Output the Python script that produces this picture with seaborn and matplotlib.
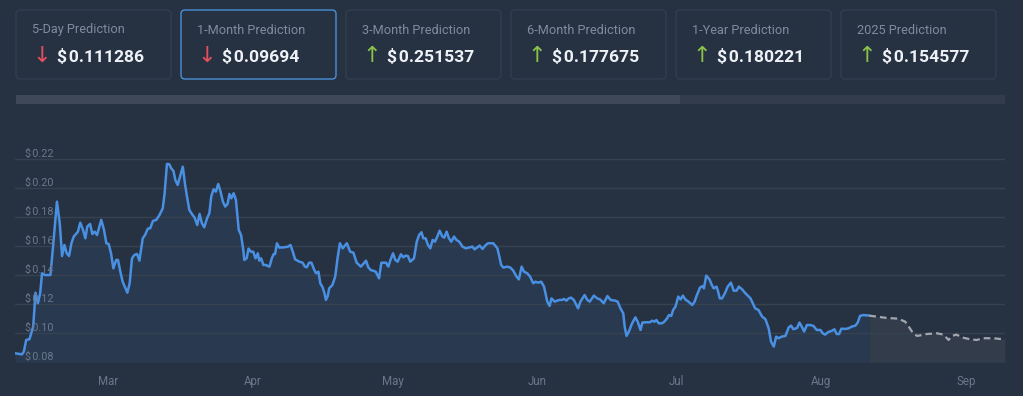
import numpy as np
import pandas as pd
import matplotlib
matplotlib.use("Agg")
import matplotlib.pyplot as plt
import matplotlib.dates as mdates
import matplotlib.transforms as mtransforms
from matplotlib.patches import FancyBboxPatch, Rectangle
import seaborn as sns

# --- Dati: schede previsione ---
card_titles = ["5-Day Prediction", "1-Month Prediction", "3-Month Prediction",
               "6-Month Prediction", "1-Year Prediction", "2025 Prediction"]
card_values = ["0.111286", "0.09694", "0.251537", "0.177675", "0.180221", "0.154577"]
card_up = [False, False, True, True, True, True]
active_card = 1

# --- Dati: prezzo storico (giorni dal 10 feb 2024) ---
start_date = "2024-02-10"
hist_days = [
    0.0, 1.5, 1.9, 2.4, 3.1, 3.9, 4.4, 4.9, 5.4, 5.8,
    6.4, 7.6, 8.1, 9.0, 9.6, 10.1, 10.6, 11.1, 11.6, 12.1,
    12.6, 13.5, 14.0, 14.6, 15.1, 15.5, 16.1, 16.6, 17.1, 17.6,
    18.5, 19.1, 19.6, 20.1, 20.6, 21.1, 21.7, 22.1, 22.6, 23.1,
    24.1, 24.6, 25.1, 25.6, 26.2, 26.7, 27.4, 27.9, 28.5, 29.0,
    29.6, 30.3, 31.0, 31.7, 32.1, 32.6, 33.1, 33.5, 34.0, 34.4,
    34.9, 35.4, 36.0, 36.5, 36.9, 37.4, 38.1, 38.5, 39.1, 39.6,
    40.1, 40.6, 41.2, 41.7, 42.1, 42.6, 43.1, 43.6, 44.1, 44.6,
    45.1, 45.6, 46.0, 46.4, 46.9, 47.4, 48.0, 48.5, 49.0, 49.2,
    49.7, 50.1, 50.6, 51.1, 51.6, 52.1, 52.4, 52.8, 53.3, 53.9,
    54.2, 54.6, 55.1, 55.5, 55.8, 56.2, 56.7, 57.8, 58.6, 59.1,
    59.6, 60.1, 61.0, 61.7, 62.2, 62.6, 63.1, 63.6, 64.2, 64.6,
    65.1, 65.5, 66.0, 66.4, 66.7, 67.1, 67.4, 68.1, 68.7, 69.2,
    69.7,
    70.3, 71.2, 71.9, 72.6, 73.3, 74.2, 74.7, 75.3, 75.8, 76.3,
    77.4, 78.1, 78.6, 79.6, 80.1, 80.5, 81.1, 81.6, 82.1, 82.8,
    83.3, 83.8, 84.3, 84.8, 85.6, 86.2, 86.7, 87.2, 87.6, 88.1,
    88.6, 89.1, 89.6, 90.1, 90.6, 91.1, 91.7, 92.1, 92.6, 93.1,
    93.6, 94.2, 94.7, 95.3, 96.0, 96.7, 97.6, 98.1, 98.6, 99.2,
    99.7, 100.3, 101.0, 101.5, 102.6, 103.5, 104.0, 104.3, 104.8, 105.6,
    106.3, 106.9, 107.6, 108.1, 108.7, 109.2, 109.9, 110.5, 111.2, 111.7,
    112.2, 112.9, 113.5, 113.8, 114.2, 114.7, 115.1, 115.8, 116.3, 116.8,
    117.4, 117.8, 118.3, 118.8, 119.3, 119.9, 120.8, 121.3, 122.2, 122.8,
    123.3, 124.2, 124.9, 125.5, 126.0, 126.3, 127.1, 127.8, 128.8, 129.3,
    129.9, 130.5, 130.8, 131.2, 131.7, 132.4, 133.1, 133.6, 134.2, 134.6,
    135.3, 136.2, 136.7, 137.2, 137.6, 138.1, 138.8, 139.3, 139.9, 140.3,
    140.8, 141.2, 141.7, 142.3, 142.8,
    143.3, 143.8, 144.5, 145.3, 145.8, 146.3, 147.0, 147.6, 147.8, 148.3,
    149.0, 149.5, 149.9, 150.5, 150.8, 151.2, 151.7, 152.3, 152.9, 153.6,
    154.2, 154.8, 155.3, 156.0, 156.7, 157.8, 158.3, 158.8, 159.5, 160.3,
    161.0, 161.7, 162.2, 162.8, 163.3, 163.8, 164.5, 165.3, 166.0, 166.5,
    167.0, 167.8, 168.3, 168.8, 169.3, 169.9, 170.6, 171.3, 172.0, 172.8,
    173.3, 173.8, 174.5, 175.3, 175.8, 176.3, 176.8, 177.3, 178.1, 178.8,
    179.5, 180.3, 180.8, 181.3, 182.0, 183.3,
]
hist_price = [
    0.0862, 0.0855, 0.0874, 0.0954, 0.0959, 0.1046, 0.1280, 0.1207, 0.1276, 0.1414,
    0.1402, 0.1402, 0.1575, 0.1908, 0.1759, 0.1533, 0.1609, 0.1552, 0.1533, 0.1621,
    0.1667, 0.1701, 0.1763, 0.1713, 0.1655, 0.1736, 0.1754, 0.1685, 0.1701, 0.1678,
    0.1782, 0.1713, 0.1621, 0.1616, 0.1552, 0.1448, 0.1506, 0.1506, 0.1425, 0.1356,
    0.1280, 0.1345, 0.1517, 0.1540, 0.1547, 0.1501, 0.1655, 0.1678, 0.1722, 0.1724,
    0.1775, 0.1782, 0.1816, 0.1862, 0.1966, 0.2168, 0.2166, 0.2138, 0.2120, 0.2057,
    0.2023, 0.2081, 0.2149, 0.2023, 0.1943, 0.1851, 0.1816, 0.1800, 0.1747, 0.1823,
    0.1759, 0.1731, 0.1793, 0.1828, 0.1943, 0.1993, 0.1977, 0.2030, 0.1977, 0.1908,
    0.1874, 0.1892, 0.1961, 0.1931, 0.1966, 0.1920, 0.1713, 0.1678, 0.1570, 0.1506,
    0.1517, 0.1584, 0.1563, 0.1563, 0.1517, 0.1552, 0.1501, 0.1517, 0.1471, 0.1471,
    0.1464, 0.1460, 0.1517, 0.1547, 0.1547, 0.1621, 0.1591, 0.1593, 0.1598, 0.1609,
    0.1563, 0.1510, 0.1494, 0.1487, 0.1460, 0.1455, 0.1487, 0.1487, 0.1437, 0.1414,
    0.1425, 0.1345, 0.1317, 0.1276, 0.1230, 0.1257, 0.1310, 0.1333, 0.1391, 0.1517,
    0.1621,
    0.1586, 0.1621, 0.1563, 0.1556, 0.1487, 0.1460, 0.1478, 0.1501, 0.1455, 0.1437,
    0.1425, 0.1379, 0.1487, 0.1487, 0.1460, 0.1501, 0.1552, 0.1506, 0.1494, 0.1545,
    0.1524, 0.1536, 0.1533, 0.1494, 0.1517, 0.1632, 0.1678, 0.1697, 0.1655, 0.1655,
    0.1609, 0.1586, 0.1644, 0.1632, 0.1667, 0.1708, 0.1667, 0.1660, 0.1701, 0.1655,
    0.1632, 0.1667, 0.1644, 0.1632, 0.1598, 0.1586, 0.1593, 0.1598, 0.1579, 0.1593,
    0.1605, 0.1582, 0.1609, 0.1621, 0.1621, 0.1586, 0.1517, 0.1471, 0.1453, 0.1460,
    0.1453, 0.1432, 0.1391, 0.1372, 0.1460, 0.1425, 0.1414, 0.1391, 0.1345, 0.1356,
    0.1349, 0.1356, 0.1322, 0.1276, 0.1218, 0.1189, 0.1241, 0.1218, 0.1225, 0.1230,
    0.1230, 0.1237, 0.1225, 0.1241, 0.1246, 0.1230, 0.1172, 0.1218, 0.1264, 0.1230,
    0.1218, 0.1260, 0.1241, 0.1234, 0.1218, 0.1207, 0.1257, 0.1230, 0.1225, 0.1218,
    0.1172, 0.1138, 0.1046, 0.0982, 0.1012, 0.1069, 0.1110, 0.1080, 0.1023, 0.1074,
    0.1076, 0.1076, 0.1087, 0.1080, 0.1092, 0.1069, 0.1069, 0.1080, 0.1103, 0.1126,
    0.1120, 0.1161, 0.1184, 0.1253, 0.1234,
    0.1260, 0.1234, 0.1218, 0.1195, 0.1218, 0.1264, 0.1317, 0.1326, 0.1310, 0.1398,
    0.1372, 0.1333, 0.1310, 0.1322, 0.1294, 0.1241, 0.1241, 0.1276, 0.1322, 0.1349,
    0.1294, 0.1294, 0.1322, 0.1303, 0.1276, 0.1241, 0.1207, 0.1172, 0.1161, 0.1115,
    0.1097, 0.1034, 0.0943, 0.0908, 0.0977, 0.0966, 0.0977, 0.0982, 0.1041, 0.1053,
    0.1028, 0.1037, 0.1074, 0.1046, 0.1012, 0.1057, 0.1057, 0.1051, 0.1023, 0.1023,
    0.1000, 0.0991, 0.1009, 0.1018, 0.1028, 0.0995, 0.0995, 0.1032, 0.1030, 0.1034,
    0.1046, 0.1053, 0.1074, 0.1120, 0.1126, 0.1122,
]

# --- Dati: previsione ---
fcst_days = [183.3, 184.9, 187.0, 189.5, 191.0, 192.0, 192.8, 193.6, 195.6, 197.8,
             199.2, 200.3, 201.0, 202.0, 203.1, 204.9, 206.3, 207.8, 209.9, 211.3, 212.4]
fcst_price = [0.1122, 0.1115, 0.1106, 0.1101, 0.1080, 0.1034, 0.0995, 0.0982, 0.0995, 0.1000,
              0.0991, 0.0954, 0.0982, 0.0991, 0.0972, 0.0959, 0.0954, 0.0966, 0.0966, 0.0961, 0.0963]

month_ticks = ["2024-03-01", "2024-04-01", "2024-05-01", "2024-06-01",
               "2024-07-01", "2024-08-01", "2024-09-01"]
price_ticks = [0.08, 0.10, 0.12, 0.14, 0.16, 0.18, 0.20, 0.22]
x_end_day = 212.4

# --- Colori ---
BG = "#263142"
CARD_EDGE = "#323d4f"
ACTIVE_EDGE = "#4a8fd6"
GRID = "#36424f"
BLUE = "#4a90e2"
FILL = "#29394f"
FC_FILL = "#323c4b"
FC_LINE = "#a3a7ad"
TICK = "#6b788c"
TITLE = "#7f8ca0"
VALUE = "#eef1f5"
RED = "#e5505f"
GREEN = "#8bc34a"

sns.set_theme(style="dark")
plt.rcParams["font.family"] = ["Roboto", "DejaVu Sans"]

t0 = pd.Timestamp(start_date)
hist = pd.DataFrame({"date": t0 + pd.to_timedelta(hist_days, unit="D"), "price": hist_price})
fcst = pd.DataFrame({"date": t0 + pd.to_timedelta(fcst_days, unit="D"), "price": fcst_price})

fig = plt.figure(figsize=(10.23, 3.96), dpi=100, facecolor=BG)

# --- Sfondo in pixel: schede e barra ---
bg_ax = fig.add_axes([0, 0, 1, 1])
bg_ax.set_xlim(0, 1023)
bg_ax.set_ylim(396, 0)
bg_ax.axis("off")
bg_ax.set_facecolor(BG)

for i, (title, val, up) in enumerate(zip(card_titles, card_values, card_up)):
    x0 = 16 + 165 * i
    edge = ACTIVE_EDGE if i == active_card else CARD_EDGE
    bg_ax.add_patch(FancyBboxPatch((x0, 10), 155, 69, boxstyle="round,pad=0,rounding_size=4",
                                   facecolor=BG, edgecolor=edge, lw=1))
    bg_ax.text(x0 + 16, 30, title, color=TITLE, fontsize=9.2, ha="left", va="center")
    bg_ax.text(x0 + 26, 56, "\u2191" if up else "\u2193", color=GREEN if up else RED,
               fontsize=16, ha="center", va="center", family=["DejaVu Sans"])
    bg_ax.text(x0 + 41, 57, "$\u200a" + val, color=VALUE, fontsize=12.6, fontweight="bold",
               ha="left", va="center")

bg_ax.add_patch(Rectangle((16, 95), 989, 9, facecolor="#323c4c", lw=0))
bg_ax.add_patch(Rectangle((16, 95), 664, 9, facecolor="#3e4858", lw=0))

# --- Grafico principale ---
ax = fig.add_axes([15 / 1023, 33.7 / 396, 990 / 1023, 217.5 / 396])
ax.set_facecolor("none")

ax.fill_between(hist["date"], hist["price"], price_ticks[0], color=FILL, lw=0, zorder=0.2)
ax.fill_between(fcst["date"], fcst["price"], price_ticks[0], color=FC_FILL, lw=0, zorder=0.2)
sns.lineplot(data=hist, x="date", y="price", ax=ax, color=BLUE, lw=1.8, zorder=3)
sns.lineplot(data=fcst, x="date", y="price", ax=ax, color=FC_LINE, lw=1.6,
             linestyle=(0, (3, 1.8)), zorder=3)

ax.set_xlim(t0, t0 + pd.Timedelta(days=x_end_day))
ax.set_ylim(0.08, 0.23)
ax.set_yticks(price_ticks)
ax.yaxis.grid(True, color=GRID, lw=1)
ax.xaxis.grid(False)
ax.set_axisbelow(True)
ax.tick_params(axis="y", length=0, labelleft=False)

trans = mtransforms.blended_transform_factory(ax.transAxes, ax.transData)
for p in price_ticks:
    ax.text(0.0101, p, f"$\u200a{p:.2f}", transform=trans, color=TICK, fontsize=7.8,
            ha="left", va="bottom")

ax.set_xticks(pd.to_datetime(month_ticks))
ax.xaxis.set_major_formatter(mdates.DateFormatter("%b"))
ax.tick_params(axis="x", length=0, pad=9, colors=TICK, labelsize=8.3)
ax.set_xlabel("")
ax.set_ylabel("")
for s in ax.spines.values():
    s.set_visible(False)

fig.savefig("out.png", dpi=100, facecolor=BG)
plt.close(fig)
